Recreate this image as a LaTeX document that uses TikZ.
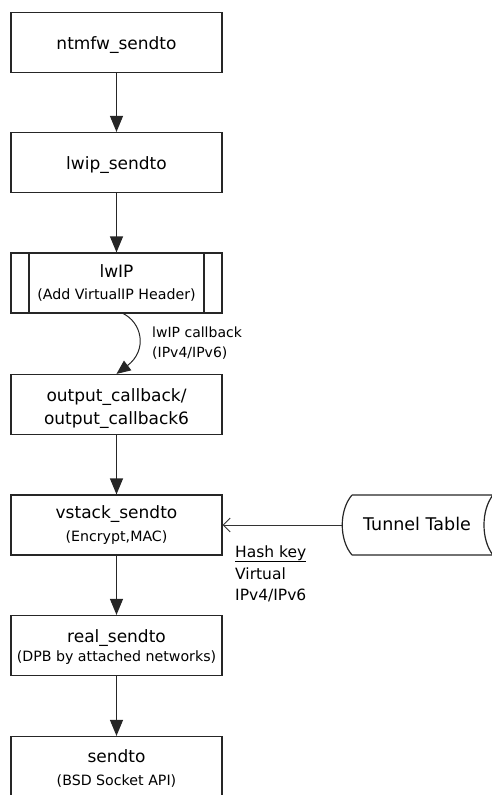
\documentclass[tikz,border=0pt]{standalone}
\usepackage{fontspec}
\setmainfont{DejaVu Sans}
\usetikzlibrary{arrows.meta}

\begin{document}
\begin{tikzpicture}[x=1pt,y=-1pt,
  box/.style={draw=black!85, line width=1.2pt, minimum width=211pt, minimum height=60pt, inner sep=0pt},
  maintext/.style={font=\fontsize{17}{19}\selectfont, inner sep=0pt, anchor=base},
  subtext/.style={font=\fontsize{14.2}{16}\selectfont, inner sep=0pt, anchor=base},
  note/.style={font=\fontsize{14}{16}\selectfont, inner sep=0pt, anchor=base west},
  keytext/.style={font=\fontsize{15.5}{17}\selectfont, inner sep=0pt, anchor=base west},
  flow/.style={draw=black!85, line width=1.2pt, -{Triangle[length=16pt,width=13pt]}},
  callflow/.style={draw=black!85, line width=1pt, -{Triangle[length=14pt,width=12pt]}},
  lookup/.style={draw=black!80, line width=0.9pt, -{Straight Barb[length=7pt,width=14pt,line width=0.9pt]}}
]
\useasboundingbox (0,0) rectangle (492,795);
\clip (0,0) rectangle (492,795);

% processing stages
\node[box] (b1) at (116.5,42.5) {};
\node[box] (b2) at (116.5,162.5) {};
\node[box] (b3) at (116.5,283) {};
\node[box] (b4) at (116.5,404.5) {};
\node[box] (b5) at (116.5,525) {};
\node[box] (b6) at (116.5,645.5) {};
\node[box] (b7) at (116.5,766.5) {};

% predefined-process side bars of the lwIP stage
\draw[black!85, line width=1.2pt] (29,253) -- (29,313) (204,253) -- (204,313);

% stage labels
\node[maintext] (t1) at (116.5,49) {ntmfw\_sendto};
\node[maintext] (t2) at (116.5,169) {lwip\_sendto};
\node[maintext] (t3) at (116.5,277) {lwIP};
\node[subtext] (s3) at (116.5,299.5) {(Add VirtualIP Header)};
\node[maintext] (t4a) at (116.5,401) {output\_callback/};
\node[maintext] (t4b) at (116.5,424) {output\_callback6};
\node[maintext] (t5) at (116.5,518) {vstack\_sendto};
\node[subtext] (s5) at (116.5,541) {(Encrypt,MAC)};
\node[maintext] (t6) at (116.5,642) {real\_sendto};
\node[subtext] (s6) at (116.5,661.5) {(DPB by attached networks)};
\node[maintext] (t7) at (116.5,762) {sendto};
\node[subtext] (s7) at (116.5,785) {(BSD Socket API)};

% straight flow between stages
\draw[flow] (b1) -- (b2);
\draw[flow] (b2) -- (b3);
\draw[flow] (b4) -- (b5);
\draw[flow] (b5) -- (b6);
\draw[flow] (b6) -- (b7);

% callback from lwIP to the output hook
\coordinate (cbstart) at (122,313);
\draw[callflow] (cbstart) .. controls (142,322) and (148,350) .. (b4.north);
\node[note] (cb1) at (152,337) {lwIP callback};
\node[note] (cb2) at (152,357) {(IPv4/IPv6)};

% tunnel table (stored data)
\draw[black!85, line width=1.2pt]
  (352,495) -- (500,495)
  (493,495) .. controls (481,510) and (481,540) .. (493,555)
  (352,555) -- (500,555)
  (352,495) .. controls (339,510) and (339,540) .. (352,555);
\node[minimum width=150pt, minimum height=60pt, inner sep=0pt] (tt) at (417,525) {};
\node[font=\fontsize{17.5}{19}\selectfont, inner sep=0pt, anchor=base] (ttl) at (417,530) {Tunnel Table};
\draw[lookup] (tt.west) -- (b5.east);

% lookup key
\node[keytext] (k1) at (235,557) {\underline{Hash key}};
\node[keytext] (k2) at (235,579) {Virtual};
\node[keytext] (k3) at (235,600) {IPv4/IPv6};
\end{tikzpicture}
\end{document}
